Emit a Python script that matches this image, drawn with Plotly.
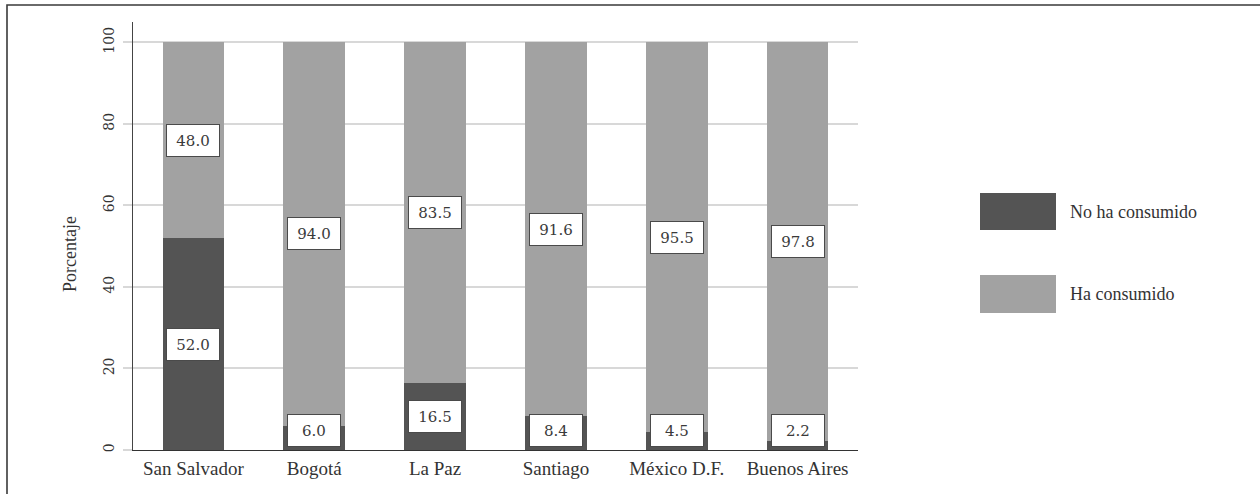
import plotly.graph_objects as go

# Consumption shares by city (percent)
cities = ["San Salvador", "Bogotá", "La Paz", "Santiago", "México D.F.", "Buenos Aires"]
no_consumido = [52.0, 6.0, 16.5, 8.4, 4.5, 2.2]
si_consumido = [48.0, 94.0, 83.5, 91.6, 95.5, 97.8]
series_names = ["No ha consumido", "Ha consumido"]
y_ticks = [0, 20, 40, 60, 80, 100]

DARK = "#545454"
LIGHT = "#a2a2a2"
GRID = "#d8d8d8"
INK = "#333333"
SERIF = "Liberation Serif"
NUMS = "DejaVu Serif"

W, H = 1260, 494
L, R, T, B = 133, 858, 22, 450  # plot area edges in pixels


def px(x):
    return (x - L) / (R - L)


def py(y):
    return (B - y) / (B - T)


fig = go.Figure()
fig.add_trace(go.Bar(x=cities, y=no_consumido, name=series_names[0],
                     marker=dict(color=DARK, line=dict(width=0)), showlegend=False))
fig.add_trace(go.Bar(x=cities, y=si_consumido, base=no_consumido, name=series_names[1],
                     marker=dict(color=LIGHT, line=dict(width=0)), showlegend=False))

# value boxes centred in each segment, kept clear of the baseline
annotations = []
for city, lo, hi in zip(cities, no_consumido, si_consumido):
    for base, val in ((0.0, lo), (lo, hi)):
        annotations.append(dict(
            x=city, y=max(base + val / 2, 4.7), xref="x", yref="y",
            text=f"{val:.1f}", showarrow=False,
            font=dict(family=NUMS, size=15, color="#3a3a3a"),
            bgcolor="white", bordercolor="#4a4a4a", borderwidth=1,
            width=48, height=27, borderpad=2,
        ))

# y-axis title
annotations.append(dict(x=px(58), y=py(254), xref="paper", yref="paper",
                        text="Porcentaje", textangle=-90, showarrow=False,
                        font=dict(family=SERIF, size=18, color=INK)))

# legend drawn as large swatches with labels
shapes = []
legend_rows = [(series_names[0], DARK, 193, 230), (series_names[1], LIGHT, 275, 313)]
for name, col, y0, y1 in legend_rows:
    shapes.append(dict(type="rect", xref="paper", yref="paper",
                       x0=px(980), x1=px(1056), y0=py(y1), y1=py(y0),
                       fillcolor=col, line=dict(width=0)))
    annotations.append(dict(x=px(1068), y=py((y0 + y1) / 2), xref="paper", yref="paper",
                            text=name, showarrow=False, xanchor="left", yanchor="middle",
                            font=dict(family=SERIF, size=18, color=INK)))

# outer frame
shapes.append(dict(type="rect", xref="paper", yref="paper",
                   x0=px(7), x1=px(1300), y0=py(540), y1=py(5),
                   line=dict(color="#3a3a3a", width=1.6), fillcolor="rgba(0,0,0,0)",
                   layer="above"))

fig.update_layout(
    width=W, height=H,
    margin=dict(l=L, r=W - R, t=T, b=H - B),
    paper_bgcolor="white", plot_bgcolor="white",
    barmode="stack", bargap=0.49,
    annotations=annotations, shapes=shapes,
    xaxis=dict(showgrid=False, showline=True, linecolor=INK, linewidth=1,
               ticks="", tickfont=dict(family=SERIF, size=19, color=INK),
               ticklabelstandoff=1, zeroline=False),
    yaxis=dict(range=[0, 105], tickvals=y_ticks, showgrid=True, gridcolor=GRID,
               gridwidth=2, zeroline=False, showline=True, linecolor="#444444",
               linewidth=1, ticks="outside", ticklen=9, tickwidth=2, tickcolor=GRID,
               tickangle=-90, tickfont=dict(family=NUMS, size=14, color=INK),
               ticklabelstandoff=3),
    font=dict(family=SERIF, color=INK),
)

fig.write_html("out.html")
